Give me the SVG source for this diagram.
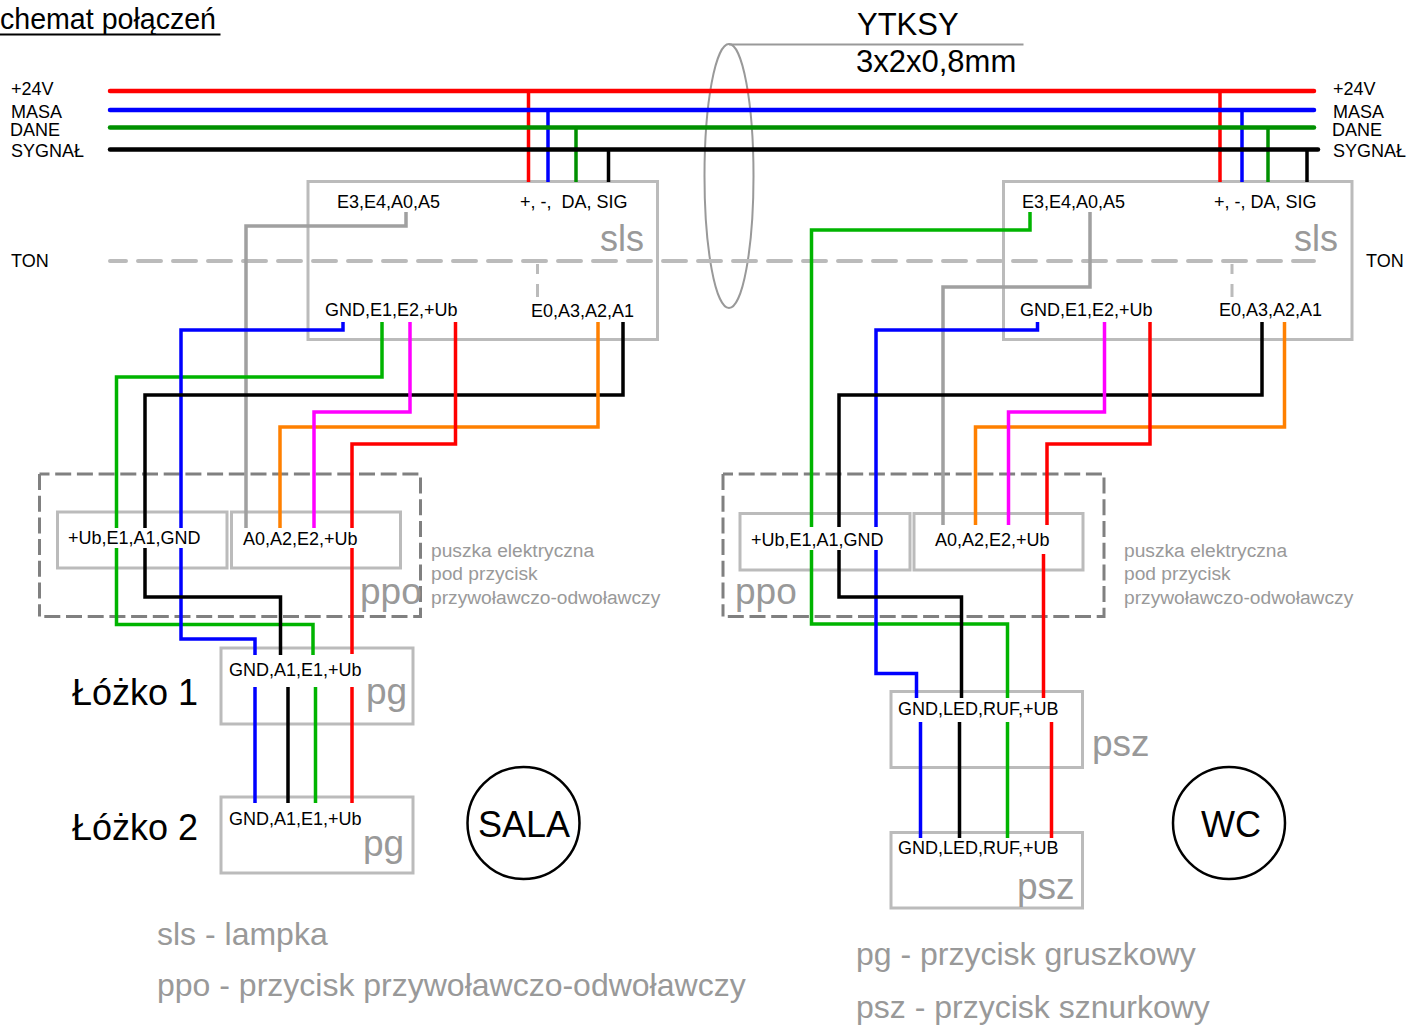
<svg xmlns="http://www.w3.org/2000/svg" width="1407" height="1025" viewBox="0 0 1407 1025">
<style>
text{font-family:"Liberation Sans",Arial,sans-serif;fill:#000}
.s{font-size:18px}
.b{fill:none;stroke:#bbb;stroke-width:3}
.d{fill:none;stroke:#808080;stroke-width:3;stroke-dasharray:16 5.700}
.w{fill:none;stroke-width:3.500;stroke-linejoin:miter}
.bus{fill:none;stroke-width:4.500;stroke-linecap:round}
.r{stroke:#f00}.bl{stroke:#00f}.gr{stroke:#00b400}.dg{stroke:#009000}.k{stroke:#000}.gy{stroke:#a0a0a0}.o{stroke:#ff8000}.m{stroke:#f0f}
.n{font-size:37px;fill:#999}
.t{font-size:36px;fill:#999}
.h{font-size:19.200px;fill:#999}
.l{font-size:32px;fill:#999}
.bed{font-size:36px}
.c{font-size:36px;text-anchor:middle}
</style>
<rect width="1407" height="1025" fill="#fff"/>
<g id="title"><text x="0" y="29" font-size="30" textLength="216" lengthAdjust="spacingAndGlyphs">chemat połączeń</text><line x1="0" y1="34.500" x2="220.500" y2="34.500" stroke="#000" stroke-width="2"/></g>
<g id="cable"><ellipse cx="729" cy="176" rx="24.500" ry="132" fill="none" stroke="#999" stroke-width="2"/><line x1="729" y1="44.500" x2="1023.500" y2="44.500" stroke="#999" stroke-width="2"/>
<text x="857" y="35" font-size="31">YTKSY</text><text x="856" y="72" font-size="31">3x2x0,8mm</text></g>
<g id="labels-left"><text class="s" x="11" y="95">+24V</text><text class="s" x="11" y="118">MASA</text><text class="s" x="10" y="136">DANE</text><text class="s" x="11" y="157" textLength="73" lengthAdjust="spacingAndGlyphs">SYGNAŁ</text><text class="s" x="11" y="267">TON</text></g>
<g id="labels-right"><text class="s" x="1333" y="95">+24V</text><text class="s" x="1333" y="118">MASA</text><text class="s" x="1332" y="136">DANE</text><text class="s" x="1333" y="157" textLength="73" lengthAdjust="spacingAndGlyphs">SYGNAŁ</text><text class="s" x="1366" y="267">TON</text></g>
<g id="sls-left"><rect class="b" x="308" y="181.500" width="349.500" height="158"/><text class="s" x="337" y="208">E3,E4,A0,A5</text><text class="s" x="520" y="208" xml:space="preserve">+, -,  DA, SIG</text><text class="s" x="325" y="316">GND,E1,E2,+Ub</text><text class="s" x="531" y="317">E0,A3,A2,A1</text><text class="t" x="644" y="251" text-anchor="end">sls</text></g>
<g id="sls-right"><rect class="b" x="1003.500" y="181.500" width="348.500" height="158"/><text class="s" x="1022" y="208">E3,E4,A0,A5</text><text class="s" x="1214" y="208">+, -, DA, SIG</text><text class="s" x="1020" y="316">GND,E1,E2,+Ub</text><text class="s" x="1219" y="316">E0,A3,A2,A1</text><text class="t" x="1338" y="251" text-anchor="end">sls</text></g>
<g id="ppo-left"><path class="d" stroke-dashoffset="6" d="M39.500 474H420.500V616.500H39.500"/><path class="d" d="M39.500 474V616.500"/><rect class="b" x="57.500" y="512" width="169.500" height="56"/><rect class="b" x="231.500" y="512" width="169" height="56"/><text class="s" x="68" y="544">+Ub,E1,A1,GND</text><text class="s" x="243" y="545">A0,A2,E2,+Ub</text><text class="n" x="360" y="604">ppo</text></g>
<g id="ppo-right"><path class="d" stroke-dashoffset="6" d="M723 474H1104V616.500H723"/><path class="d" d="M723 474V616.500"/><rect class="b" x="740" y="513.500" width="170" height="56.500"/><rect class="b" x="914" y="513.500" width="169" height="56.500"/><text class="s" x="751" y="546">+Ub,E1,A1,GND</text><text class="s" x="935" y="546">A0,A2,E2,+Ub</text><text class="n" x="735" y="604">ppo</text></g>
<g id="note-left"><text class="h" x="431" y="557">puszka elektryczna</text><text class="h" x="431" y="580">pod przycisk</text><text class="h" x="431" y="604">przywoławczo-odwoławczy</text></g>
<g id="note-right"><text class="h" x="1124" y="557">puszka elektryczna</text><text class="h" x="1124" y="580">pod przycisk</text><text class="h" x="1124" y="604">przywoławczo-odwoławczy</text></g>
<g id="pg-1"><rect class="b" x="221" y="648" width="192" height="76"/><text class="s" x="229" y="676">GND,A1,E1,+Ub</text><text class="n" x="366" y="704">pg</text></g>
<g id="pg-2"><rect class="b" x="221" y="797" width="192" height="76"/><text class="s" x="229" y="825">GND,A1,E1,+Ub</text><text class="n" x="363" y="856">pg</text></g>
<g id="psz-1"><rect class="b" x="891" y="691.500" width="191.500" height="76"/><text class="s" x="898" y="715">GND,LED,RUF,+UB</text><text class="n" x="1092" y="756">psz</text></g>
<g id="psz-2"><rect class="b" x="891" y="832.500" width="191.500" height="75.500"/><text class="s" x="898" y="854">GND,LED,RUF,+UB</text><text class="n" x="1017" y="899">psz</text></g>
<g id="bed-labels"><text class="bed" x="72" y="705">Łóżko 1</text><text class="bed" x="72" y="840">Łóżko 2</text></g>
<g id="sala"><circle cx="523.500" cy="823" r="56" fill="none" stroke="#000" stroke-width="2.500"/><text class="c" x="524" y="837">SALA</text></g>
<g id="wc"><circle cx="1229" cy="823" r="56" fill="none" stroke="#000" stroke-width="2.500"/><text class="c" x="1231" y="837">WC</text></g>
<g id="legend"><text class="l" x="157" y="945">sls - lampka</text><text class="l" x="157" y="996">ppo - przycisk przywoławczo-odwoławczy</text><text class="l" x="856" y="965">pg - przycisk gruszkowy</text><text class="l" x="856" y="1018">psz - przycisk sznurkowy</text></g>
<g id="connectors">
<path d="M110 261H1314" fill="none" stroke="#bbb" stroke-width="4" stroke-linecap="round" stroke-dasharray="23 12" stroke-dashoffset="7"/>
<path d="M537.500 264V274M537.500 284V297M1232 264V274M1232 284V297" fill="none" stroke="#bbb" stroke-width="3"/>
<path class="w r" d="M528.500 91V182M1220 91V182"/><path class="w bl" d="M548 110V182M1242 110V182"/><path class="w dg" d="M576 127.500V182M1268 127.500V182"/><path class="w k" d="M608.500 149.500V182M1307 149.500V182"/>
<path class="w gy" d="M406 212V226H246V528"/><path class="w gy" d="M1090 212V287H943V525"/>
<path class="w gr" d="M382 322V377H116.500V528M116.500 548V624.500H313V655"/><path class="w gr" d="M1030 212V230H811.500V527M811.500 550V624H1007.500V698"/>
<path class="w bl" d="M343 322V330H181V528M181 548V639H255V655"/><path class="w bl" d="M1037.500 322V330H876V527M876 550V673.500H916.500V698"/>
<path class="w k" d="M623 322V395H145V528M145 548V597H280.500V655"/><path class="w k" d="M1262 322V395H839V527M839 550V597H961.500V698"/>
<path class="w o" d="M598 322V427H280V528"/><path class="w o" d="M1284.500 322V427H975.500V525"/>
<path class="w m" d="M410 322V412H314V528"/><path class="w m" d="M1104.500 322V412H1008.500V525"/>
<path class="w r" d="M455.500 322V444H352V528M352 548V654"/><path class="w r" d="M1150 322V444H1047V525M1043.500 554V698"/>
<path class="w bl" d="M255 687V803M920.500 722V838"/><path class="w k" d="M288 687V803M959.500 722V838"/><path class="w gr" d="M315.500 687V803M1007.500 722V838"/><path class="w r" d="M352 687V803M1051.500 722V838"/>
<path class="bus r" d="M110 91H1314"/><path class="bus bl" d="M110 110H1314"/><path class="bus dg" d="M110 127.500H1314"/><path class="bus k" d="M110 149.500H1318"/>
</g>
</svg>
